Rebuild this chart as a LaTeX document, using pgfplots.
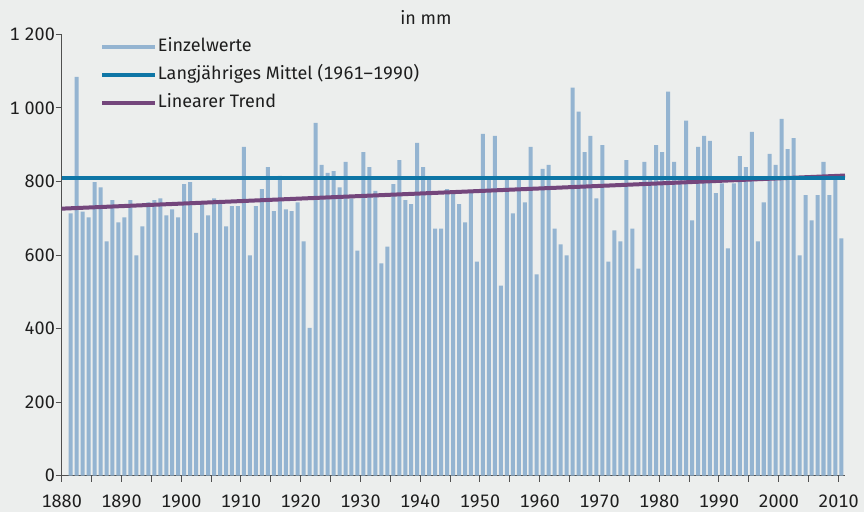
\documentclass[border=0pt]{standalone}
\usepackage{fontspec}
\setmainfont{Fira Sans}[Numbers={Monospaced,Lining}]
\usepackage{pgfplots}
\pgfplotsset{compat=1.18}
\usepackage{pgfplotstable}
\definecolor{bgc}{RGB}{236,238,237}
\definecolor{barc}{RGB}{148,180,209}
\definecolor{meanc}{RGB}{14,118,166}
\definecolor{trendc}{RGB}{116,70,124}
\definecolor{axcol}{RGB}{80,80,80}
\definecolor{txtcol}{RGB}{30,30,30}
\pgfplotstableread{
year val
1881 713
1882 1084
1883 718
1884 702
1885 798
1886 784
1887 637
1888 749
1889 689
1890 702
1891 749
1892 599
1893 678
1894 743
1895 749
1896 754
1897 708
1898 724
1899 702
1900 793
1901 798
1902 660
1903 738
1904 708
1905 754
1906 749
1907 678
1908 733
1909 733
1910 894
1911 599
1912 733
1913 779
1914 839
1915 719
1916 815
1917 724
1918 719
1919 743
1920 637
1921 402
1922 959
1923 845
1924 823
1925 828
1926 784
1927 853
1928 754
1929 612
1930 880
1931 839
1932 774
1933 577
1934 623
1935 793
1936 858
1937 749
1938 738
1939 905
1940 839
1941 805
1942 672
1943 672
1944 779
1945 768
1946 738
1947 689
1948 768
1949 582
1950 929
1951 805
1952 924
1953 517
1954 805
1955 713
1956 805
1957 743
1958 894
1959 547
1960 834
1961 845
1962 672
1963 629
1964 599
1965 1055
1966 990
1967 880
1968 924
1969 754
1970 899
1971 582
1972 667
1973 637
1974 858
1975 672
1976 563
1977 853
1978 805
1979 899
1980 880
1981 1044
1982 853
1983 805
1984 965
1985 694
1986 894
1987 924
1988 910
1989 768
1990 795
1991 618
1992 795
1993 869
1994 839
1995 935
1996 637
1997 743
1998 875
1999 845
2000 970
2001 888
2002 918
2003 599
2004 763
2005 694
2006 763
2007 853
2008 763
2009 809
2010 645
}\precip
\begin{document}
\begin{tikzpicture}
\fill[bgc] (-61.7pt,-36.3pt) rectangle (802.3pt,475.7pt);
\begin{axis}[
  at={(0pt,0pt)}, anchor=south west,
  scale only axis, width=783.3pt, height=441.4pt,
  xmin=1880, xmax=2011.1, ymin=0, ymax=1200,
  axis lines*=left,
  axis line style={axcol, line width=1.2pt},
  tick style={axcol, line width=1pt},
  tick align=outside,
  major tick length=6pt, minor tick length=6pt,
  xtick={1880,1890,...,2010},
  minor xtick={1885,1895,...,2005},
  ytick={0,200,...,1200},
  /pgf/number format/assume math mode=true,
  x tick label style={/pgf/number format/1000 sep=, yshift=-9.5pt},
  y tick label style={/pgf/number format/1000 sep={\kern0.28em}, xshift=2.7pt},
  tick label style={font=\fontsize{18}{21}\selectfont, text=txtcol},
  clip=false,
  legend style={at={(axis description cs:0.0489,0.9918)}, anchor=north west,
    draw=none, fill=none, inner sep=0pt,
    font=\fontsize{18}{21}\selectfont, text=txtcol,
    row sep=10pt,
    nodes={inner sep=1pt, text height=12pt, text depth=4pt}},
  legend cell align=left,
  legend image code/.code={\draw[#1, line width=4pt] (0pt,0pt) -- (52.7pt,0pt);},
]
\addplot[ybar, bar width=0.67, fill=barc, draw=none, forget plot] table[x expr=\thisrow{year}+0.5, y=val] {\precip};
\addplot[trendc, line width=4pt, forget plot] coordinates {(1880,726) (2011.1,816)};
\addplot[meanc, line width=4pt, forget plot] coordinates {(1880,809) (2011.1,809)};
\addlegendimage{barc}
\addlegendentry{Einzelwerte}
\addlegendimage{meanc}
\addlegendentry{Langjähriges Mittel (1961--1990)}
\addlegendimage{trendc}
\addlegendentry{Linearer Trend}
\node[font=\fontsize{18}{21}\selectfont, text=txtcol] at (axis description cs:0.465,1.037) {in mm};
\end{axis}
\pgfresetboundingbox
\path[use as bounding box] (-61.7pt,-36.3pt) rectangle (802.3pt,475.7pt);
\end{tikzpicture}
\end{document}
